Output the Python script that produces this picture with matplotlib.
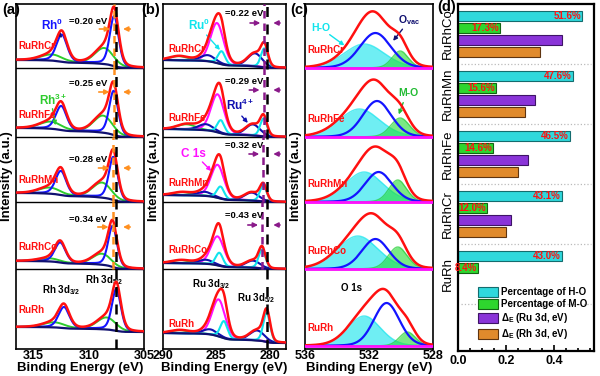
import numpy as np
import matplotlib
matplotlib.use("Agg")
import matplotlib.pyplot as plt
import matplotlib.ticker as ticker
from matplotlib.patches import Patch

plt.rcParams["font.family"] = ["Liberation Sans", "DejaVu Sans"]
plt.rcParams["font.weight"] = "bold"
plt.rcParams["mathtext.fontset"] = "custom"
plt.rcParams["mathtext.rm"] = "Liberation Sans:bold"
plt.rcParams["mathtext.bf"] = "Liberation Sans:bold"
plt.rcParams["mathtext.it"] = "Liberation Sans:bold"
plt.rcParams["mathtext.default"] = "bf"

# =============================================================================
# Data
# =============================================================================

SAMPLES = ["RuRhCr", "RuRhFe", "RuRhMn", "RuRhCo", "RuRh"]

# (a) Rh 3d fit: Rh0 doublet follows RH_REF + shift, heights above background
RH_REF   = 307.50
RH_SO    = 4.75
RH_SHIFT = [0.20, 0.25, 0.28, 0.34, 0.00]
RH0_H52  = [50, 44, 43, 41, 42]
RH0_H32  = [27, 24, 24, 20, 21]
RH3_POS  = [308.6, 308.7, 308.8, 308.8, 308.4]
RH3_H52  = [16, 17, 15, 11, 12]
RH3_H32  = [6, 7, 6, 3, 5]
RH_BG_HI = [8, 9, 9, 8, 5]

# (b) Ru 3d + C 1s fit
RU_REF   = 280.30
RU_SO    = 4.0
RU_SHIFT = [0.22, 0.29, 0.32, 0.43, 0.00]
RU0_H52  = [19, 18, 16, 19, 29]
RU0_H32  = [13, 13, 12, 13, 17]
RU4_POS  = [281.4, 281.6, 281.7, 281.6, 281.2]
RU4_H52  = [13, 11, 8, 7, 10]
RU4_H32  = [6, 6, 4, 4, 5]
C1S_POS  = [284.95, 284.9, 284.9, 284.9, 284.8]
C1S_H    = [40, 38, 33, 29, 37]
CO_POS   = [288.5, 287.8, 288.2, 288.3, 288.4]
CO_H     = [4, 5, 3, 3, 3]
RU_BG_HI = [8, 8, 7, 6, 10]

# (c) O 1s fit
HO_POS = [532.3, 532.6, 532.3, 532.7, 532.3]
HO_H   = [24, 28, 30, 33, 30]
HO_W   = [3.0, 3.0, 2.8, 3.0, 2.4]
OV_POS = [531.6, 531.5, 531.4, 531.6, 530.9]
OV_H   = [35, 36, 30, 30, 43]
OV_W   = [2.3, 2.1, 2.0, 2.0, 1.9]
MO_POS = [530.05, 530.05, 530.2, 530.2, 529.6]
MO_H   = [17, 19, 22, 22, 14]
MO_W   = [1.2, 1.4, 1.3, 1.4, 1.2]

# (d) summary bars
D_GROUPS = ["RuRhCo", "RuRhMn", "RuRhFe", "RuRhCr", "RuRh"]
HO_PCT   = [51.6, 47.6, 46.5, 43.1, 43.0]
MO_PCT   = [17.3, 15.6, 14.6, 12.0, 8.4]
DE_RU    = [0.43, 0.32, 0.29, 0.22, np.nan]
DE_RH    = [0.34, 0.28, 0.25, 0.20, np.nan]

# =============================================================================
# Layout helpers (pixel based, 600 x 376 canvas)
# =============================================================================

W, H = 600, 376
TOP, BOT = 4, 349
SEPS = [281, 212, 147, 80]          # sub-panel boundaries, in px above the bottom
YMAX = BOT - TOP

RED, BLUE, GREEN, NAVY = "#ff1010", "#1414ff", "#2ecc2e", "#101070"
ORANGE, PURPLE = "#ff9020", "#8a1a8a"
CYAN, MAGENTA = "#10e4ec", "#ff10ff"


def rect(x0, y0, x1, y1):
    return [x0 / W, 1 - y1 / H, (x1 - x0) / W, (y1 - y0) / H]


def pv(x, c, h, w, eta=0.3):
    t = (x - c) / w
    return h * ((1 - eta) * np.exp(-4 * np.log(2) * t ** 2) + eta / (1 + 4 * t ** 2))


def shirley(peaks, hi):
    cum = np.cumsum(peaks)
    return hi * cum / cum[-1]


def spectral_axes(r, xlim, xticks):
    ax = fig.add_axes(rect(*r))
    ax.set_xlim(*xlim)
    ax.set_ylim(0, YMAX)
    ax.set_yticks([])
    ax.set_xticks(xticks)
    ax.tick_params(axis="x", length=0, pad=1, labelsize=9)
    for s in ax.spines.values():
        s.set_linewidth(1.2)
    for y in SEPS:
        ax.axhline(y, color="k", lw=1.0, zorder=1)
    ax.set_xlabel("Binding Energy (eV)", fontsize=9.5, fontweight="bold", labelpad=0)
    ax.set_ylabel("Intensity (a.u.)", fontsize=9.5, fontweight="bold", labelpad=2)
    return ax


def arrows(ax, y, line_l, line_r, color):
    kw = dict(arrowstyle="-|>", color=color, lw=1.2, mutation_scale=7)
    ax.annotate("", xy=(line_l + 0.12, y), xytext=(line_l + 1.6, y), arrowprops=kw, zorder=6)
    ax.annotate("", xy=(line_r - 0.35, y), xytext=(line_r - 1.5, y), arrowprops=kw, zorder=6)


fig = plt.figure(figsize=(W / 100, H / 100), dpi=100)

# =============================================================================
# (a) Rh 3d
# =============================================================================

ax = spectral_axes((16, TOP, 144, BOT), (316.6, 305.0), [315, 310, 305])
base = SEPS + [17]
tops = [YMAX] + SEPS
xa = np.linspace(305.0, 316.6, 600)
arrow_y = [320, 257, 181, 122]
for i, name in enumerate(SAMPLES):
    b = base[i]
    p0 = RH_REF + RH_SHIFT[i]
    rh0 = pv(xa, p0, RH0_H52[i], 0.95) + pv(xa, p0 + RH_SO, RH0_H32[i], 1.15)
    rh3 = pv(xa, RH3_POS[i], RH3_H52[i], 2.0, 0.2) + pv(xa, RH3_POS[i] + RH_SO, RH3_H32[i], 2.3, 0.2)
    bg = shirley(rh0 + rh3, RH_BG_HI[i])
    ax.plot(xa, b + bg + rh3, color=GREEN, lw=1.4, zorder=2)
    ax.plot(xa, b + bg + rh0, color=BLUE, lw=1.5, zorder=3)
    ax.plot(xa, b + bg, color=NAVY, lw=1.6, zorder=3)
    ax.plot(xa, b + bg + rh0 + rh3, color=RED, lw=1.8, zorder=4)
    ax.text(316.4, b + 22, name, color=RED, fontsize=7, ha="left", va="center", zorder=7)
    if RH_SHIFT[i] > 0:
        ax.vlines(p0, b, tops[i], colors=ORANGE, linestyles=(0, (3, 2)), lw=1.8, zorder=5)
        arrows(ax, arrow_y[i], p0, RH_REF, ORANGE)
        ax.text(308.3, arrow_y[i] + 8, f"={RH_SHIFT[i]:.2f} eV", fontsize=6.8,
                ha="right", va="center", zorder=7)
ax.axvline(RH_REF, color="k", ls=(0, (4, 3)), lw=1.8, zorder=5)
ax.text(313.34, 324, "Rh$^0$", color=BLUE, fontsize=8.5, ha="center", va="center")
ax.annotate("", xy=(312.25, 309), xytext=(312.88, 317),
            arrowprops=dict(arrowstyle="-|>", color=NAVY, lw=1, mutation_scale=6))
ax.text(313.25, 249, "Rh$^{3+}$", color=GREEN, fontsize=8.5, ha="center", va="center")
ax.annotate("", xy=(312.97, 221), xytext=(313.34, 243),
            arrowprops=dict(arrowstyle="-|>", color=GREEN, lw=1, mutation_scale=6))
ax.text(314.24, 59, "Rh 3d$_{3/2}$", fontsize=7, ha="left", va="center")
ax.text(310.34, 69, "Rh 3d$_{5/2}$", fontsize=7, ha="left", va="center")

# =============================================================================
# (b) Ru 3d / C 1s
# =============================================================================

ax = spectral_axes((163, TOP, 286, BOT), (290, 278.5), [290, 285, 280])
base = SEPS + [6]
xb = np.linspace(278.5, 290, 600)
arrow_y = [326, 259, 195, 124]
for i, name in enumerate(SAMPLES):
    b = base[i]
    p0 = RU_REF + RU_SHIFT[i]
    ru0 = pv(xb, p0, RU0_H52[i], 0.75, 0.2) + pv(xb, p0 + RU_SO, RU0_H32[i], 0.8, 0.2)
    ru4 = pv(xb, RU4_POS[i], RU4_H52[i], 1.6, 0.2) + pv(xb, RU4_POS[i] + 4.4, RU4_H32[i], 1.6, 0.2)
    c1s = pv(xb, C1S_POS[i], C1S_H[i], 1.45, 0.2)
    co = pv(xb, CO_POS[i], CO_H[i], 2.0, 0.2)
    bg = shirley(ru0 + ru4 + c1s + co, RU_BG_HI[i])
    ax.plot(xb, b + bg + co, color=GREEN, lw=1.3, zorder=2)
    ax.plot(xb, b + bg + c1s, color=MAGENTA, lw=1.5, zorder=2)
    ax.plot(xb, b + bg + ru4, color="#1010b0", lw=1.5, zorder=3)
    ax.plot(xb, b + bg + ru0, color=CYAN, lw=1.5, zorder=3)
    ax.plot(xb, b + bg, color=NAVY, lw=1.6, zorder=3)
    ax.plot(xb, b + bg + ru0 + ru4 + c1s + co, color=RED, lw=1.8, zorder=4)
    ax.text(289.5, b + 19, name, color=RED, fontsize=7, ha="left", va="center", zorder=7)
    if RU_SHIFT[i] > 0:
        ax.vlines(p0, b, tops[i], colors=PURPLE, linestyles=(0, (3, 2)), lw=1.8, zorder=5)
        arrows(ax, arrow_y[i], p0, RU_REF, PURPLE)
        ax.text(280.6, arrow_y[i] + 9, f"={RU_SHIFT[i]:.2f} eV", fontsize=6.8,
                ha="right", va="center", zorder=7)
ax.axvline(RU_REF, color="k", ls=(0, (4, 3)), lw=1.8, zorder=5)
ax.text(286.6, 324, "Ru$^0$", color=CYAN, fontsize=8.5, ha="center", va="center")
ax.annotate("", xy=(284.5, 297), xytext=(286.1, 316),
            arrowprops=dict(arrowstyle="-|>", color=CYAN, lw=1, mutation_scale=6))
ax.text(282.8, 244, "Ru$^{4+}$", color="#1010b0", fontsize=8.5, ha="center", va="center")
ax.annotate("", xy=(281.9, 224), xytext=(282.8, 235),
            arrowprops=dict(arrowstyle="-|>", color="#1010b0", lw=1, mutation_scale=6))
ax.text(287.2, 195, "C 1s", color=MAGENTA, fontsize=8.5, ha="center", va="center")
ax.annotate("", xy=(285.3, 176), xytext=(286.5, 189),
            arrowprops=dict(arrowstyle="-|>", color=MAGENTA, lw=1, mutation_scale=6))
ax.text(287.3, 65, "Ru 3d$_{3/2}$", fontsize=7, ha="left", va="center")
ax.text(283.1, 51, "Ru 3d$_{5/2}$", fontsize=7, ha="left", va="center")

# =============================================================================
# (c) O 1s
# =============================================================================

ax = spectral_axes((305, TOP, 433, BOT), (536, 528), [536, 532, 528])
base = SEPS + [3]
xc = np.linspace(528, 536, 500)
for i, name in enumerate(SAMPLES):
    b = base[i]
    ho = pv(xc, HO_POS[i], HO_H[i], HO_W[i], 0.15)
    ov = pv(xc, OV_POS[i], OV_H[i], OV_W[i], 0.15)
    mo = pv(xc, MO_POS[i], MO_H[i], MO_W[i], 0.15)
    ax.fill_between(xc, b, b + ho, color=CYAN, alpha=0.6, lw=0, zorder=2)
    ax.plot(xc, b + ho, color=CYAN, lw=1.0, alpha=0.7, zorder=2)
    ax.fill_between(xc, b, b + mo, color="#22dd33", alpha=0.6, lw=0, zorder=2)
    ax.plot(xc, b + mo, color="#22cc33", lw=1.0, alpha=0.7, zorder=2)
    ax.plot(xc, b + ov, color=BLUE, lw=1.6, zorder=3)
    ax.plot(xc, b + ho + ov + mo, color=RED, lw=1.8, zorder=4)
    ax.axhline(b, color=MAGENTA, lw=2.0, zorder=4)
    ax.text(535.85, b + 18, name, color=RED, fontsize=7, ha="left", va="center", zorder=7)
ax.text(535.0, 321, "H-O", color=CYAN, fontsize=7.5, ha="center", va="center")
ax.annotate("", xy=(533.4, 302), xytext=(534.6, 316),
            arrowprops=dict(arrowstyle="-|>", color=CYAN, lw=1, mutation_scale=6))
ax.text(529.5, 329, "O$_{vac}$", color=NAVY, fontsize=7.5, ha="center", va="center")
ax.annotate("", xy=(530.6, 306), xytext=(529.8, 322),
            arrowprops=dict(arrowstyle="-|>", color=NAVY, lw=1, mutation_scale=6))
ax.text(529.55, 256, "M-O", color="#22bb33", fontsize=7.5, ha="center", va="center")
ax.annotate("", xy=(530.2, 232), xytext=(529.8, 249),
            arrowprops=dict(arrowstyle="-|>", color="#22bb33", lw=1, mutation_scale=6))
ax.text(533.1, 61, "O 1s", fontsize=7, ha="center", va="center")

# =============================================================================
# (d) summary bars
# =============================================================================

ax = fig.add_axes(rect(458, 4, 594, 351))
y = np.arange(len(D_GROUPS))
bh = 0.17
series = [
    (np.array(HO_PCT) / 100, -0.3, "#2fd8dc", "#146c6e", "Percentage of H-O"),
    (np.array(MO_PCT) / 100, -0.1, "#2ed62e", "#146414", "Percentage of M-O"),
    (np.array(DE_RU), 0.1, "#8a34d8", "#3e1466", r"$\Delta_E$ (Ru 3d, eV)"),
    (np.array(DE_RH), 0.3, "#e08a2c", "#5e3410", r"$\Delta_E$ (Rh 3d, eV)"),
]
handles = []
for vals, off, fc, ec, lab in series:
    ax.barh(y + off, vals, height=bh, color=fc, edgecolor=ec, lw=0.8)
    handles.append(Patch(facecolor=fc, edgecolor=ec, lw=0.8, label=lab))
for i in range(len(D_GROUPS)):
    ax.text(HO_PCT[i] / 100 - 0.004, y[i] - 0.3, f"{HO_PCT[i]:.1f}%", color=RED,
            fontsize=7, ha="right", va="center")
    ax.text(MO_PCT[i] / 100 - 0.004, y[i] - 0.1, f"{MO_PCT[i]:.1f}%", color=RED,
            fontsize=7, ha="right", va="center")
    ax.axhline(y[i] + 0.5, xmin=0.02, xmax=0.98, color="#bbbbbb", ls=":", lw=0.9)
ax.set_ylim(5.28, -0.5)
ax.set_xlim(0, 0.565)
ax.set_yticks(y)
ax.set_yticklabels(D_GROUPS, rotation=90, va="center", fontsize=9.5, fontweight="normal")
ax.tick_params(axis="y", length=0, pad=3)
ax.xaxis.set_major_locator(ticker.MultipleLocator(0.2))
ax.xaxis.set_minor_locator(ticker.MultipleLocator(0.05))
ax.xaxis.set_major_formatter(ticker.FormatStrFormatter("%.1f"))
ax.tick_params(axis="x", which="major", direction="in", length=4, width=1.2, labelsize=9, pad=3)
ax.tick_params(axis="x", which="minor", direction="in", length=2.5, width=1.2)
for s in ax.spines.values():
    s.set_linewidth(1.6)
ax.legend(handles=handles, loc="upper left", bbox_to_anchor=(0.15, 0.185), frameon=False,
          fontsize=7, handlelength=2.0, handleheight=1.2, handletextpad=0.3,
          labelspacing=0.2, borderaxespad=0, borderpad=0)

for lab, px, py in [("(a)", 2, 3), ("(b)", 141, 3), ("(c)", 290, 3), ("(d)", 437, 0)]:
    fig.text(px / W, 1 - py / H, lab, fontsize=10.5, fontweight="bold", ha="left", va="top")

fig.savefig("out.png", dpi=100, facecolor="white")
